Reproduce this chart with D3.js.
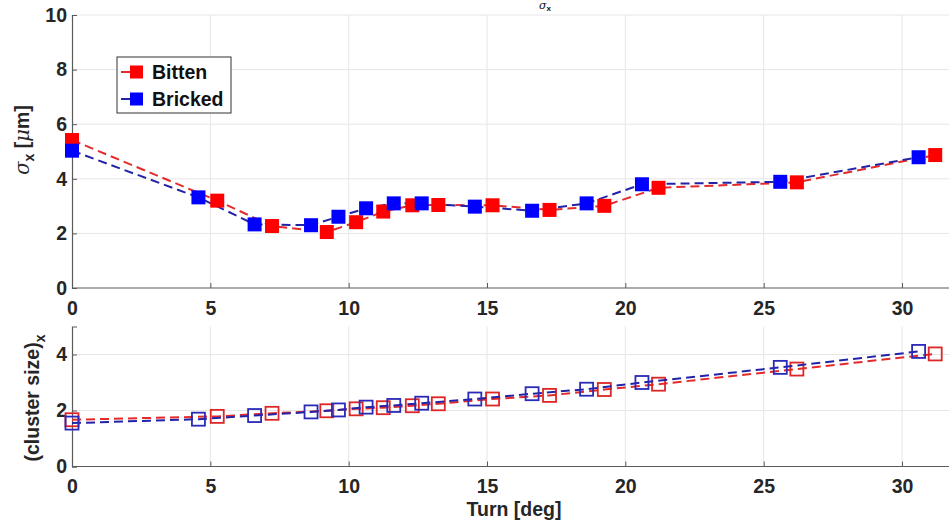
<!DOCTYPE html>
<html>
<head>
<meta charset="utf-8">
<script src="https://cdn.jsdelivr.net/npm/d3@7"></script>
<style>
  body { margin: 0; background: #fff; }
  text { font-family: "Liberation Sans", Arial, sans-serif; }
</style>
</head>
<body>
<div id="chart"></div>
<script>
// data
const bittenTurn    = [0, 5.25, 7.23, 9.21, 10.27, 11.25, 12.3, 13.24, 15.2, 17.26, 19.24, 21.2, 26.2, 31.2];
const bittenSigma   = [5.42, 3.2, 2.27, 2.05, 2.41, 2.8, 3.03, 3.04, 3.03, 2.86, 3.01, 3.67, 3.87, 4.87];
const bittenCluster = [1.67, 1.79, 1.9, 1.99, 2.06, 2.1, 2.17, 2.24, 2.41, 2.54, 2.75, 2.94, 3.48, 4.02];

const brickedTurn    = [0, 4.57, 6.6, 8.64, 9.63, 10.63, 11.63, 12.64, 14.56, 16.63, 18.6, 20.6, 25.6, 30.6];
const brickedSigma   = [5.03, 3.32, 2.33, 2.3, 2.61, 2.92, 3.1, 3.1, 2.98, 2.83, 3.1, 3.8, 3.89, 4.79];
const brickedCluster = [1.55, 1.69, 1.82, 1.95, 2.02, 2.12, 2.18, 2.26, 2.41, 2.6, 2.76, 3.0, 3.54, 4.11];

const xTicks = [0, 5, 10, 15, 20, 25, 30];
const yTopTicks = [0, 2, 4, 6, 8, 10];
const yBotTicks = [0, 2, 4];

const series = [
  { name: "Bitten",  turn: bittenTurn,  sigma: bittenSigma,  cluster: bittenCluster,  fill: "#ff0000", line: "#e42a2a", hollow: "#dd2626" },
  { name: "Bricked", turn: brickedTurn, sigma: brickedSigma, cluster: brickedCluster, fill: "#0000ff", line: "#2323a8", hollow: "#2a2ab8" }
];

const width = 949, height = 524;
const svg = d3.select("#chart").append("svg")
    .attr("width", width)
    .attr("height", height);

// scales
const x = d3.scaleLinear().domain([0, 32]).range([72, 72 + 32 * 27.667]);
const yTop = d3.scaleLinear().domain([0, 10]).range([288, 15]);
const yBot = d3.scaleLinear().domain([0, 5]).range([466.5, 326.5]);

const axisColor = "#5a5a5a", gridColor = "#e6e6e6", labelColor = "#262626";

function drawPanel(y, yTicks, topVal) {
    const g = svg.append("g");
    // grid
    g.selectAll(".vg").data(xTicks.filter(d => d > 0)).enter().append("line")
        .attr("x1", d => x(d)).attr("x2", d => x(d))
        .attr("y1", y(0)).attr("y2", y(topVal))
        .attr("stroke", gridColor).attr("stroke-width", 1);
    g.selectAll(".hg").data(yTicks.filter(d => d > 0)).enter().append("line")
        .attr("x1", x(0)).attr("x2", width)
        .attr("y1", d => y(d)).attr("y2", d => y(d))
        .attr("stroke", gridColor).attr("stroke-width", 1);

    // axes, ticks inside like matlab
    const xAxis = d3.axisBottom(x).tickValues(xTicks).tickSize(-5).tickPadding(13).tickFormat(d3.format("d"));
    const yAxis = d3.axisLeft(y).tickValues(yTicks).tickSize(-5).tickPadding(5).tickFormat(d3.format("d"));

    const gx = g.append("g").attr("transform", `translate(0,${y(0)})`).call(xAxis);
    const gy = g.append("g").attr("transform", `translate(${x(0)},0)`).call(yAxis);
    [gx, gy].forEach(a => {
        a.select(".domain").attr("stroke", axisColor).attr("stroke-width", 1.2);
        a.selectAll(".tick line").attr("stroke", axisColor);
        a.selectAll(".tick text")
            .attr("fill", labelColor)
            .style("font-size", "19.5px")
            .style("font-weight", "bold")
            .style("font-family", "Liberation Sans, Arial, sans-serif");
    });
    gx.select(".domain").attr("d", `M${x(0)},0H${width}`);
    return g;
}

drawPanel(yTop, yTopTicks, 10);
drawPanel(yBot, yBotTicks, 5);

const mTop = 14, mBot = 13;

// top panel: dashed lines + filled squares
series.forEach(s => {
    const pts = s.turn.map((t, i) => ({ t: t, v: s.sigma[i] }));
    svg.append("path")
        .datum(pts)
        .attr("d", d3.line().x(d => x(d.t)).y(d => yTop(d.v)))
        .attr("fill", "none")
        .attr("stroke", s.line)
        .attr("stroke-width", 2)
        .attr("stroke-dasharray", "9,5");
});
series.forEach(s => {
    svg.append("g").selectAll("rect")
        .data(s.turn.map((t, i) => ({ t: t, v: s.sigma[i] })))
        .enter().append("rect")
        .attr("x", d => x(d.t) - mTop / 2)
        .attr("y", d => yTop(d.v) - mTop / 2)
        .attr("width", mTop).attr("height", mTop)
        .attr("fill", s.fill);
});

// bottom panel: dashed lines + hollow squares
series.forEach(s => {
    const pts = s.turn.map((t, i) => ({ t: t, v: s.cluster[i] }));
    svg.append("path")
        .datum(pts)
        .attr("d", d3.line().x(d => x(d.t)).y(d => yBot(d.v)))
        .attr("fill", "none")
        .attr("stroke", s.line)
        .attr("stroke-width", 2)
        .attr("stroke-dasharray", "9,5");
    svg.append("g").selectAll("rect")
        .data(pts)
        .enter().append("rect")
        .attr("x", d => x(d.t) - mBot / 2)
        .attr("y", d => yBot(d.v) - mBot / 2)
        .attr("width", mBot).attr("height", mBot)
        .attr("fill", "none")
        .attr("stroke", s.hollow)
        .attr("stroke-width", 1.8);
});

// legend
const legend = svg.append("g").attr("transform", "translate(117,57)");
legend.append("rect")
    .attr("width", 114).attr("height", 56)
    .attr("fill", "#fff").attr("stroke", "#333").attr("stroke-width", 1);
series.forEach((s, i) => {
    const ly = 15 + i * 27;
    legend.append("line")
        .attr("x1", 4).attr("x2", 24).attr("y1", ly).attr("y2", ly)
        .attr("stroke", s.line).attr("stroke-width", 2);
    legend.append("rect")
        .attr("x", 13).attr("y", ly - 6.5).attr("width", 13).attr("height", 13)
        .attr("fill", s.fill);
    legend.append("text")
        .attr("x", 35).attr("y", ly + 7)
        .text(s.name)
        .style("font-size", "19.5px").style("font-weight", "bold")
        .attr("fill", "#111");
});

// axis labels
const ylab1 = svg.append("text")
    .attr("transform", "translate(29,140) rotate(-90)")
    .attr("text-anchor", "middle")
    .attr("fill", labelColor)
    .style("font-size", "19.5px").style("font-weight", "bold");
ylab1.append("tspan").text("σ").style("font-style", "italic").style("font-weight", "normal")
    .style("font-family", "DejaVu Serif, serif");
ylab1.append("tspan").text("x").attr("dy", 5).style("font-size", "14px");
ylab1.append("tspan").text(" [").attr("dy", -5);
ylab1.append("tspan").text("μ").style("font-style", "italic").style("font-weight", "normal")
    .style("font-family", "DejaVu Serif, serif");
ylab1.append("tspan").text("m]");

const ylab2 = svg.append("text")
    .attr("transform", "translate(39,398) rotate(-90)")
    .attr("text-anchor", "middle")
    .attr("fill", labelColor)
    .style("font-size", "19.5px").style("font-weight", "bold");
ylab2.append("tspan").text("(cluster size)");
ylab2.append("tspan").text("x").attr("dy", 6).style("font-size", "14px");

svg.append("text")
    .attr("x", 514).attr("y", 516)
    .attr("text-anchor", "middle")
    .attr("fill", labelColor)
    .style("font-size", "19.5px").style("font-weight", "bold")
    .text("Turn [deg]");

// title, reduced so it sits above the plot
const title = svg.append("text")
    .attr("x", 545).attr("y", 9)
    .attr("text-anchor", "middle")
    .attr("fill", "#111")
    .style("font-size", "11px").style("font-weight", "bold");
title.append("tspan").text("σ").style("font-style", "italic").style("font-family", "DejaVu Serif, serif").style("font-weight", "normal");
title.append("tspan").text("x").attr("dy", 2).style("font-size", "8px");
</script>
</body>
</html>
